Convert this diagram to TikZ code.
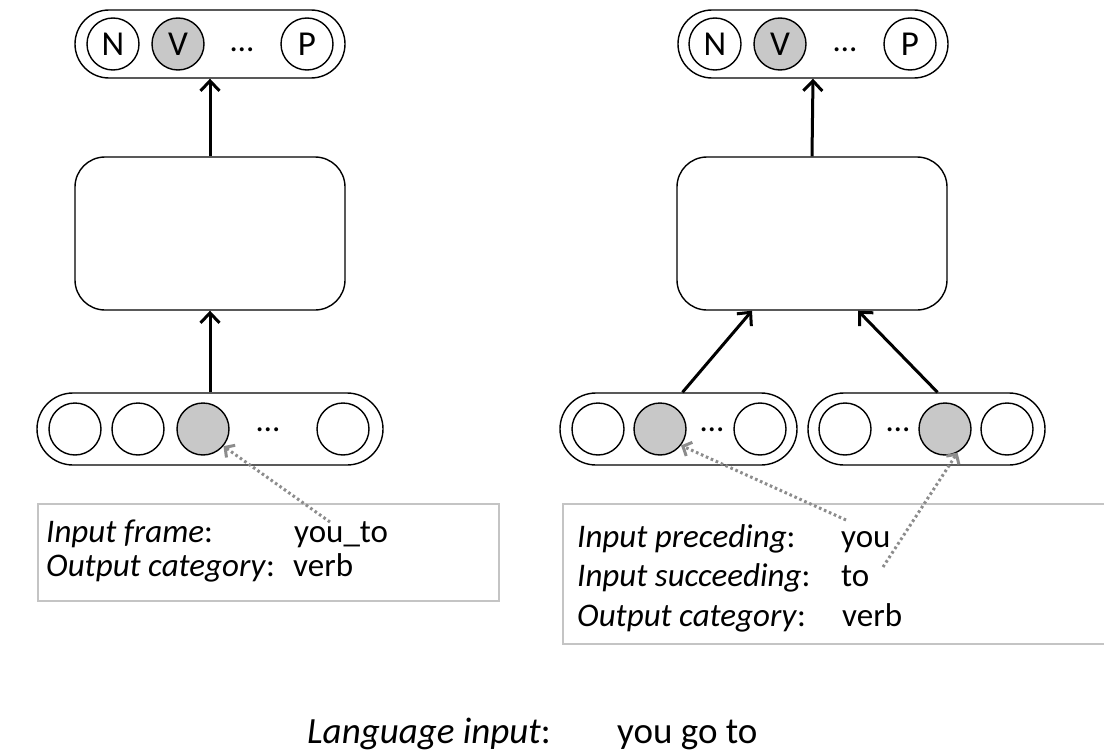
\documentclass[tikz,border=0pt]{standalone}
\usepackage{fontspec}
\setmainfont{Carlito}
\usetikzlibrary{arrows.meta,calc}
\definecolor{hotfill}{RGB}{200,200,200}
\definecolor{boxgray}{RGB}{196,196,196}
\definecolor{dotgray}{RGB}{140,140,140}
\begin{document}
\begin{tikzpicture}[x=1pt,y=-1pt,
  capsule/.style={draw,line width=1.4pt,inner sep=0pt},
  neuron/.style={circle,draw,line width=1.4pt,minimum size=52pt,inner sep=0pt,font=\fontsize{35}{35}\selectfont},
  hot/.style={neuron,fill=hotfill},
  dots/.style={anchor=base,inner sep=0pt,font=\fontsize{33}{33}\selectfont},
  netbox/.style={draw,line width=1.4pt,rounded corners=30pt,minimum width=270pt,minimum height=153pt,inner sep=0pt},
  arr/.style={line width=3pt,-{Straight Barb[length=10pt,width=19pt]}},
  dotarr/.style={draw=dotgray,line width=3pt,dash pattern=on 2.6pt off 2.8pt,-{Straight Barb[length=7pt,width=15pt]}},
  infobox/.style={draw=boxgray,line width=2pt,anchor=north west,inner sep=0pt},
  txt/.style={anchor=base west,inner sep=0pt,font=\fontsize{33}{33}\selectfont},
  big/.style={anchor=base west,inner sep=0pt,font=\fontsize{37}{37}\selectfont}
]
\useasboundingbox (0,0) rectangle (1104,752);

% ---------------- left network ----------------
\node[capsule,rounded corners=34pt,minimum width=270pt,minimum height=68pt] (outL) at (210,44) {};
\node[neuron] (oLn) at (113,44) {N};
\node[hot] (oLv) at (178,44) {V};
\node[dots] (oLd) at (242,52) {…};
\node[neuron] (oLp) at (307,44) {P};

\node[netbox] (boxL) at (210,233.5) {};

\node[capsule,rounded corners=36pt,minimum width=346pt,minimum height=72pt] (inL) at (210,429) {};
\node[neuron] (iL1) at (75,429) {};
\node[neuron] (iL2) at (138,429) {};
\node[hot] (gL) at (203,429) {};
\node[dots] (iLd) at (268,431) {…};
\node[neuron] (iL4) at (343,429) {};

\draw[arr] (inL.north) -- (boxL.south);
\draw[arr] (boxL.north) -- (outL.south);

\node[infobox,minimum width=461pt,minimum height=97pt] (infoL) at (37,503) {};
\node[txt] (tL1) at (46,542) {\itshape Input frame\/\upshape:};
\node[txt] (vL1) at (294,542) {you\_to};
\node[txt] (tL2) at (46,576) {\itshape Output category\/\upshape:};
\node[txt] (vL2) at (293,576) {verb};

\coordinate (tailL) at (330,522);
\draw[dotarr] (tailL) -- (gL.-40);

% ---------------- right network ----------------
\node[capsule,rounded corners=34pt,minimum width=270pt,minimum height=68pt] (outR) at (813,44) {};
\node[neuron] (oRn) at (715,44) {N};
\node[hot] (oRv) at (780,44) {V};
\node[dots] (oRd) at (845,52) {…};
\node[neuron] (oRp) at (910,44) {P};

\node[netbox] (boxR) at (812,233.5) {};

\node[capsule,rounded corners=36pt,minimum width=237pt,minimum height=72pt] (inRa) at (678.5,429) {};
\node[neuron] (iRa1) at (598,429) {};
\node[hot] (gRa) at (660,429) {};
\node[dots] (iRad) at (712,431) {…};
\node[neuron] (iRa4) at (760,429) {};

\node[capsule,rounded corners=36pt,minimum width=237pt,minimum height=72pt] (inRb) at (926.5,429) {};
\node[neuron] (iRb1) at (845,429) {};
\node[dots] (iRbd) at (898,431) {…};
\node[hot] (gRb) at (945,429) {};
\node[neuron] (iRb4) at (1007,429) {};

\draw[arr] ([xshift=4pt]inRa.north) -- ([xshift=-60pt]boxR.south);
\draw[arr] ([xshift=11pt]inRb.north) -- ([xshift=46pt]boxR.south);
\draw[arr] (boxR.north) -- (outR.south);

\node[infobox,minimum width=560pt,minimum height=140pt] (infoR) at (562,503) {};
\node[txt] (tR1) at (577,547) {\itshape Input preceding\/\upshape:};
\node[txt] (vR1) at (841,547) {you};
\node[txt] (tR2) at (577,586) {\itshape Input succeeding\/\upshape:};
\node[txt] (vR2) at (841,586) {to};
\node[txt] (tR3) at (577,626) {\itshape Output category\/\upshape:};
\node[txt] (vR3) at (842,626) {verb};

\coordinate (tailRa) at (846,520);
\coordinate (tailRb) at (883,567);
\draw[dotarr] (tailRa) -- (gRa.-38);
\draw[dotarr] (tailRb) -- (gRb.-62);

% ---------------- language input ----------------
\node[big] (lang) at (307,743) {\itshape Language input\/\upshape:};
\node[big] (langv) at (617,743) {you go to};
\end{tikzpicture}
\end{document}
